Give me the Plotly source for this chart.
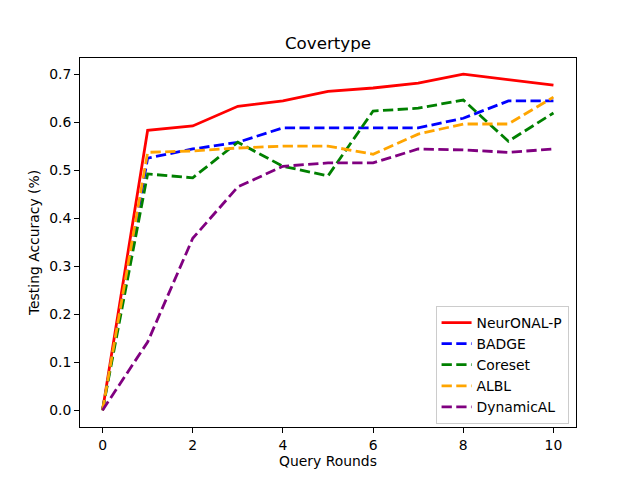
import plotly.graph_objects as go

rounds = list(range(11))
neuronal_p = [0.0, 0.583, 0.592, 0.633, 0.644, 0.664, 0.671, 0.681, 0.700, 0.689, 0.677]
badge = [0.0, 0.525, 0.544, 0.558, 0.588, 0.588, 0.588, 0.588, 0.608, 0.644, 0.644]
coreset = [0.0, 0.492, 0.484, 0.558, 0.508, 0.488, 0.623, 0.629, 0.646, 0.560, 0.619]
albl = [0.0, 0.537, 0.540, 0.546, 0.550, 0.550, 0.533, 0.575, 0.596, 0.596, 0.652]
dynamical = [0.0, 0.142, 0.358, 0.465, 0.508, 0.515, 0.515, 0.544, 0.542, 0.537, 0.544]

series = [
    ("NeurONAL-P", neuronal_p, "red", "solid"),
    ("BADGE", badge, "blue", "10.3px,4.4px"),
    ("Coreset", coreset, "green", "10.3px,4.4px"),
    ("ALBL", albl, "orange", "10.3px,4.4px"),
    ("DynamicAL", dynamical, "purple", "10.3px,4.4px"),
]

fig = go.Figure()
for name, vals, color, dash in series:
    fig.add_trace(go.Scatter(x=rounds, y=vals, mode="lines", name=name,
                             line=dict(color=color, width=2.8, dash=dash)))

font = "DejaVu Sans"
fig.update_layout(
    width=640, height=480,
    margin=dict(l=72, r=72, t=50, b=61, autoexpand=False),
    paper_bgcolor="white", plot_bgcolor="white",
    font=dict(family=font, size=13.9, color="black"),
    title=dict(text="Covertype", x=(328 - 8) / 640, xanchor="center", y=1 - 41/480, yanchor="bottom",
               font=dict(size=16.7, family=font)),
    showlegend=True,
    legend=dict(x=0.985, y=0.008, xanchor="right", yanchor="bottom",
                bgcolor="rgba(255,255,255,0.8)", bordercolor="#cccccc", borderwidth=1,
                font=dict(size=13.9, family=font), tracegroupgap=0, itemwidth=30),
)
fig.update_xaxes(range=[-0.5, 10.5], tickvals=[0, 2, 4, 6, 8, 10],
                 ticks="outside", ticklen=4.9, tickwidth=1.1, tickcolor="black",
                 showline=True, linecolor="black", linewidth=1.1, mirror=True,
                 showgrid=False, zeroline=False,
                 title=dict(text="Query Rounds", font=dict(size=13.9), standoff=4))
fig.update_yaxes(range=[-0.035, 0.7335], tickvals=[0, 0.1, 0.2, 0.3, 0.4, 0.5, 0.6, 0.7],
                 tickformat=".1f",
                 ticks="outside", ticklen=4.9, tickwidth=1.1, tickcolor="black",
                 showline=True, linecolor="black", linewidth=1.1, mirror=True,
                 showgrid=False, zeroline=False,
                 title=dict(text="Testing Accuracy (%)", font=dict(size=13.9), standoff=6))
fig.write_html("out.html")
